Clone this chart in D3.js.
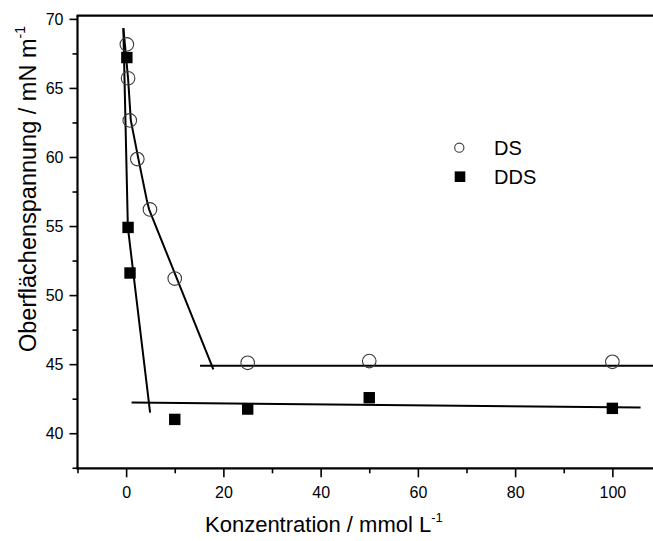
<!DOCTYPE html>
<html>
<head>
<meta charset="utf-8">
<script src="https://cdn.jsdelivr.net/npm/d3@7/dist/d3.min.js"></script>
<style>
  html, body { margin: 0; padding: 0; background: #fff; }
  svg { display: block; font-family: "Liberation Sans", Arial, sans-serif; }
</style>
</head>
<body>
<svg id="chart" width="653" height="541"></svg>
<script>
// Surface tension vs. concentration for DS and DDS
const dsConc    = [0.15, 0.4, 0.75, 2.3, 4.9, 10, 25, 50, 100];
const dsTension = [68.15, 65.7, 62.65, 59.85, 56.2, 51.2, 45.1, 45.22, 45.17];

const ddsConc    = [0.15, 0.4, 0.8, 10, 25, 50, 100];
const ddsTension = [67.2, 54.9, 51.6, 41.0, 41.75, 42.57, 41.8];

// Guide lines (concentration, tension) drawn through the measurements
const dsDropX  = [-0.57, 0.4, 0.96, 2.52, 4.25, 4.72, 17.94];
const dsDropY  = [69.33, 65.7, 62.67, 59.86, 56.89, 56.21, 44.62];
const dsFlatX  = [15.2, 110];
const dsFlatY  = [44.88, 44.88];
const ddsDropX = [-0.57, 0.36, 4.93];
const ddsDropY = [69.33, 54.9, 41.49];
const ddsFlatX = [1.12, 105.8];
const ddsFlatY = [42.22, 41.86];

const xMajorTicks = [0, 20, 40, 60, 80, 100];
const xMinorTicks = [-10, 10, 30, 50, 70, 90, 110];
const yMajorTicks = [40, 45, 50, 55, 60, 65, 70];
const yMinorTicks = [37.5, 42.5, 47.5, 52.5, 57.5, 62.5, 67.5];

const seriesNames = ["DS", "DDS"];

const svg = d3.select("#chart");
const plotLeft = 77.5, plotRight = 661, plotTop = 15.7, plotBottom = 468.3;

const x = d3.scaleLinear().domain([-10, 110]).range([plotLeft, plotRight]);
const y = d3.scaleLinear().domain([37.46, 70.23]).range([plotBottom, plotTop]);

// Axes: major ticks with labels, minor ticks without
svg.append("g")
  .attr("transform", `translate(0,${plotBottom})`)
  .call(d3.axisBottom(x).tickValues(xMinorTicks).tickSize(5).tickFormat(""))
  .call(g => g.select(".domain").remove())
  .call(g => g.selectAll("line").attr("stroke", "#000").attr("stroke-width", 1.6));
svg.append("g")
  .attr("transform", `translate(0,${plotBottom})`)
  .call(d3.axisBottom(x).tickValues(xMajorTicks).tickSize(9).tickPadding(9).tickFormat(d3.format("d")))
  .call(g => g.select(".domain").remove())
  .call(g => g.selectAll("line").attr("stroke", "#000").attr("stroke-width", 1.6))
  .call(g => g.selectAll("text").attr("fill", "#000").attr("font-size", 16)
      .attr("font-family", "Liberation Sans, Arial, sans-serif"));

svg.append("g")
  .attr("transform", `translate(${plotLeft},0)`)
  .call(d3.axisLeft(y).tickValues(yMinorTicks).tickSize(5).tickFormat(""))
  .call(g => g.select(".domain").remove())
  .call(g => g.selectAll("line").attr("stroke", "#000").attr("stroke-width", 1.6));
svg.append("g")
  .attr("transform", `translate(${plotLeft},0)`)
  .call(d3.axisLeft(y).tickValues(yMajorTicks).tickSize(8).tickPadding(6).tickFormat(d3.format("d")))
  .call(g => g.select(".domain").remove())
  .call(g => g.selectAll("line").attr("stroke", "#000").attr("stroke-width", 1.6))
  .call(g => g.selectAll("text").attr("fill", "#000").attr("font-size", 16)
      .attr("font-family", "Liberation Sans, Arial, sans-serif"));

// Frame lines (left, bottom, top)
const frame = svg.append("g").attr("stroke", "#000").attr("stroke-width", 2.2);
frame.append("line").attr("x1", plotLeft).attr("x2", plotLeft).attr("y1", plotTop).attr("y2", plotBottom + 1);
frame.append("line").attr("x1", plotLeft - 1).attr("x2", plotRight).attr("y1", plotBottom).attr("y2", plotBottom);
frame.append("line").attr("x1", plotLeft - 1).attr("x2", plotRight).attr("y1", plotTop).attr("y2", plotTop);

// Guide lines
const line = d3.line().x(d => x(d[0])).y(d => y(d[1]));
const guides = [
  d3.zip(dsDropX, dsDropY),
  d3.zip(dsFlatX, dsFlatY),
  d3.zip(ddsDropX, ddsDropY),
  d3.zip(ddsFlatX, ddsFlatY)
];
svg.append("g").selectAll("path").data(guides).join("path")
  .attr("d", line)
  .attr("fill", "none")
  .attr("stroke", "#000")
  .attr("stroke-width", 2)
  .attr("stroke-linejoin", "round");

// DS: open circles
svg.append("g").selectAll("circle").data(d3.zip(dsConc, dsTension)).join("circle")
  .attr("cx", d => x(d[0]))
  .attr("cy", d => y(d[1]))
  .attr("r", 6.8)
  .attr("fill", "none")
  .attr("stroke", "#3a3a3a")
  .attr("stroke-width", 1.1);

// DDS: filled squares
const sq = 11.4;
svg.append("g").selectAll("rect").data(d3.zip(ddsConc, ddsTension)).join("rect")
  .attr("x", d => x(d[0]) - sq / 2)
  .attr("y", d => y(d[1]) - sq / 2)
  .attr("width", sq)
  .attr("height", sq)
  .attr("fill", "#000");

// Legend
const legend = svg.append("g");
legend.append("circle").attr("cx", 459.3).attr("cy", 147.7).attr("r", 4.6)
  .attr("fill", "none").attr("stroke", "#3a3a3a").attr("stroke-width", 1.1);
legend.append("rect").attr("x", 460 - 5.3).attr("y", 176.7 - 5.3)
  .attr("width", 10.6).attr("height", 10.6).attr("fill", "#000");
legend.selectAll("text").data(seriesNames).join("text")
  .attr("x", 494)
  .attr("y", (d, i) => 155 + i * 29.3)
  .attr("font-size", 20)
  .attr("fill", "#000")
  .text(d => d);

// Axis titles
const xt = svg.append("text")
  .attr("x", 205).attr("y", 531.5)
  .attr("font-size", 22).attr("fill", "#000");
xt.append("tspan").text("Konzentration / mmol L");
xt.append("tspan").attr("font-size", 13).attr("dy", -10).text("-1");

const yt = svg.append("text")
  .attr("transform", "translate(36,352) rotate(-90)")
  .attr("font-size", 23.5).attr("fill", "#000");
yt.append("tspan").text("Oberflächenspannung / mN m");
yt.append("tspan").attr("font-size", 14).attr("dy", -11).text("-1");
</script>
</body>
</html>
